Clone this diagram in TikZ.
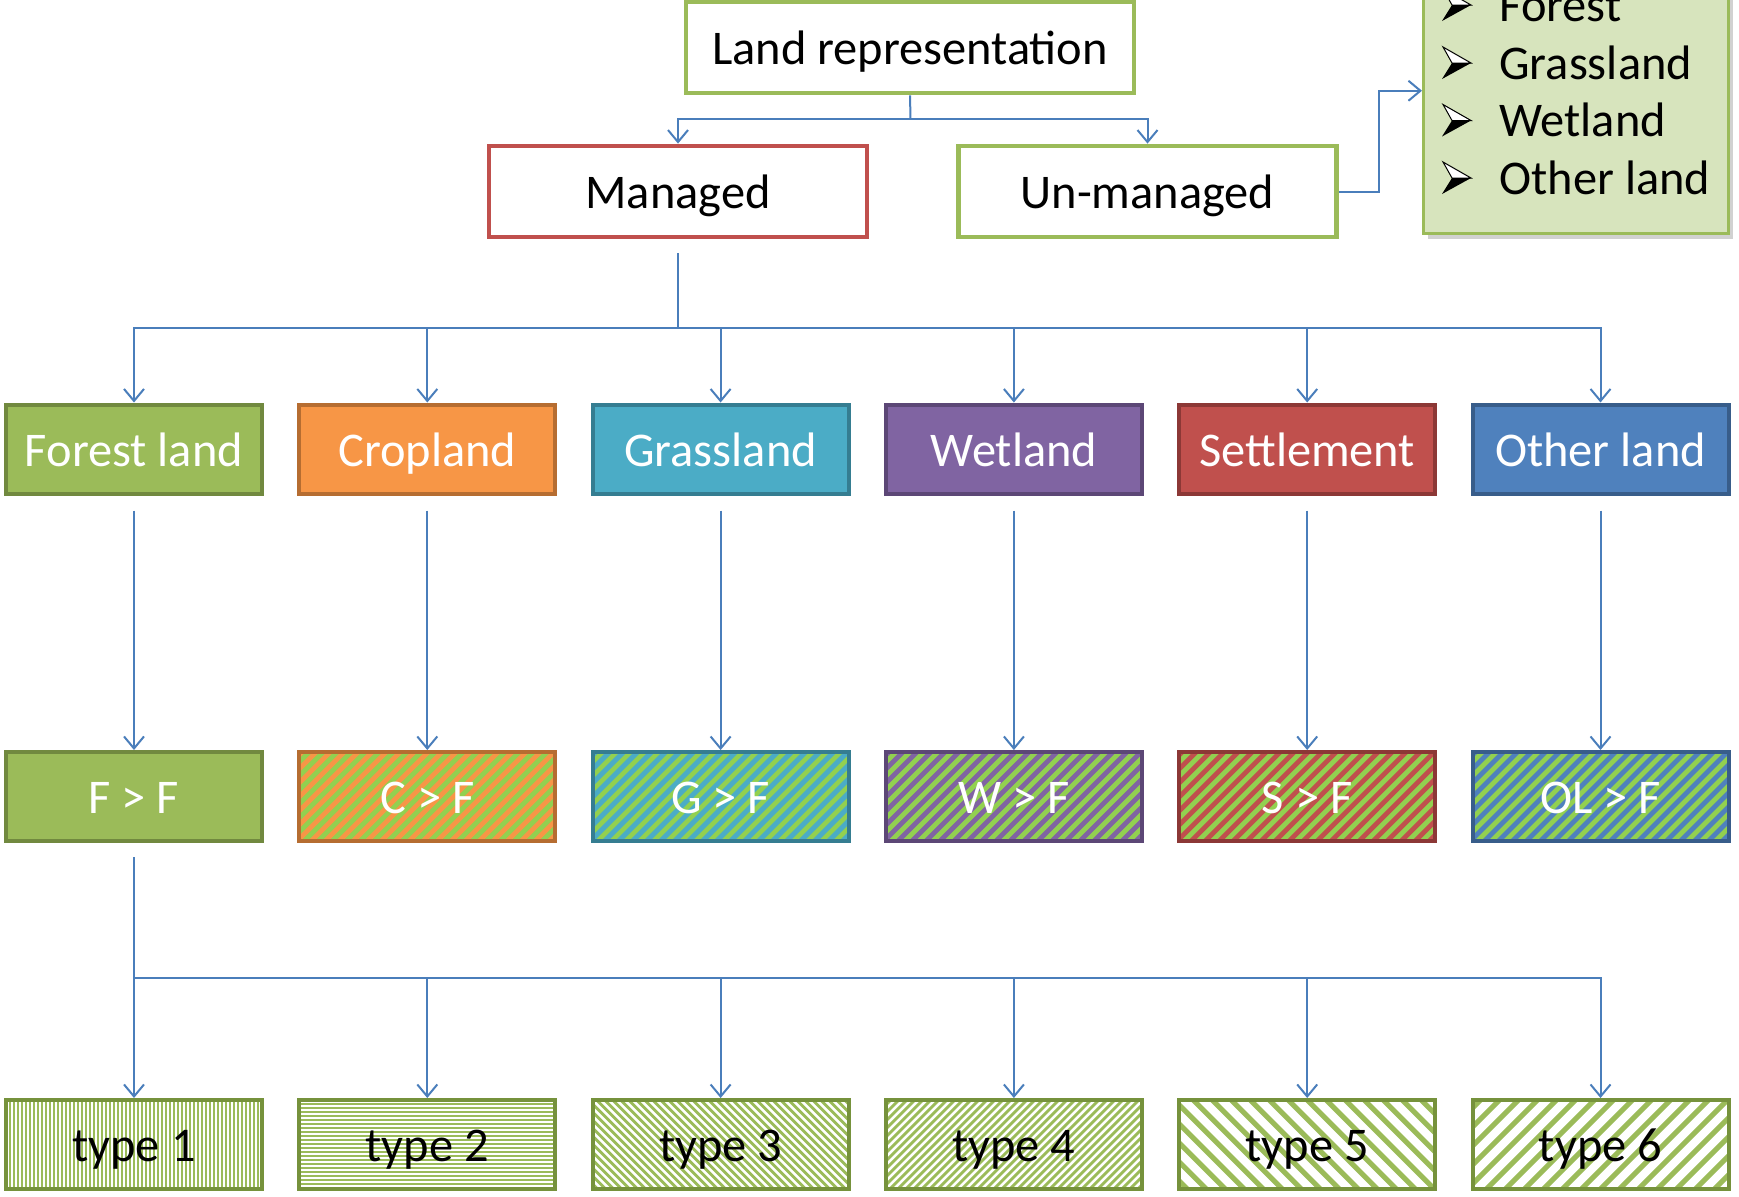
\documentclass[tikz,border=0pt]{standalone}
\usepackage{fontspec}
\setmainfont{Carlito}
\usetikzlibrary{arrows.meta,calc,shadows}
\definecolor{cblue}{HTML}{4A7EBB}
\definecolor{lrgreen}{HTML}{9BBB59}
\definecolor{mred}{HTML}{C0504D}
\definecolor{legfill}{HTML}{D7E4BD}
\definecolor{hgreen}{HTML}{92D050}
\definecolor{cgreen}{HTML}{9BBB59}\definecolor{bgreen}{HTML}{71893F}
\definecolor{corange}{HTML}{F79646}\definecolor{borange}{HTML}{B66D31}
\definecolor{caqua}{HTML}{4BACC6}\definecolor{baqua}{HTML}{357D91}
\definecolor{cpurple}{HTML}{8064A2}\definecolor{bpurple}{HTML}{5C4776}
\definecolor{cred}{HTML}{C0504D}\definecolor{bred}{HTML}{8C3836}
\definecolor{cblu}{HTML}{4F81BD}\definecolor{bblu}{HTML}{385D8A}
\definecolor{tline}{HTML}{9BBB59}
\definecolor{tborder}{HTML}{76923C}
\tikzset{
  bul/.pic={
    \filldraw[fill=white, draw=black, line width=0.5pt] (1,-32) -- (29,-16) -- (10,-16) -- cycle;
    \fill[black] (10,-16) -- (29,-16) -- (0,0) -- cycle;
  },
  hatchNE/.style n args={3}{path picture={
    \foreach \k in {0,...,70}{
      \draw[#1, line width=#3] ($(path picture bounding box.south west)+(\k*#2-100,0)$) -- ++(100,-100);}}},
  hatchSE/.style n args={3}{path picture={
    \foreach \k in {0,...,70}{
      \draw[#1, line width=#3] ($(path picture bounding box.north west)+(\k*#2-100,0)$) -- ++(100,100);}}},
  hatchV/.style n args={3}{path picture={
    \foreach \k in {0,...,70}{
      \draw[#1, line width=#3] ($(path picture bounding box.north west)+(\k*#2,0)$) -- ++(0,100);}}},
  hatchH/.style n args={3}{path picture={
    \foreach \k in {0,...,30}{
      \draw[#1, line width=#3] ($(path picture bounding box.north west)+(0,\k*#2)$) -- ++(300,0);}}},
}
\begin{document}
\begin{tikzpicture}[x=0.5pt,y=-0.5pt,
  conn/.style={draw=cblue, line width=1pt, -{Straight Barb[length=6pt,width=10pt,line width=1pt]}},
  cline/.style={draw=cblue, line width=1pt},
  txt/.style={font=\fontsize{24.2}{29}\selectfont, text height=17.4pt, text depth=0pt, inner sep=0pt},
  ltxt/.style={font=\fontsize{24.2}{29}\selectfont, inner sep=0pt},
  topbox/.style={txt, fill=white, line width=2.4pt, minimum height=45.5pt, text=black},
  rowbox/.style={txt, line width=2pt, minimum width=128pt, minimum height=44.5pt, text=white},
  typebox/.style={txt, draw=tborder, line width=2pt, fill=white, minimum width=128pt, minimum height=44.5pt, text=black},
]
\useasboundingbox (0,0) rectangle (1739,1196);

% top
\node[topbox, draw=lrgreen, minimum width=224pt] (lr) at (910,47.5) {Land representation};
\node[topbox, draw=mred, minimum width=189pt] (mg) at (678,191.5) {Managed};
\node[topbox, draw=lrgreen, minimum width=189pt] (um) at (1147.5,191.5) {Un-managed};

% legend
\node[draw=lrgreen, fill=legfill, line width=1.5pt, minimum width=152.5pt, minimum height=126.75pt, inner sep=0pt,
  drop shadow={shadow xshift=2pt, shadow yshift=-2.5pt, fill=black, opacity=0.18}] (legend) at (1576,106.75) {};
\node[ltxt, anchor=base west] (li1) at (1499,21) {Forest};
\node[ltxt, anchor=base west] (li2) at (1499,79) {Grassland};
\node[ltxt, anchor=base west] (li3) at (1499,136.5) {Wetland};
\node[ltxt, anchor=base west] (li4) at (1499,194) {Other land};
\pic at (1442,21) {bul};
\pic at (1442,79) {bul};
\pic at (1442,136.5) {bul};
\pic at (1442,194) {bul};

% row 1
\node[rowbox, fill=cgreen, draw=bgreen] (fl) at (134,449) {Forest land};
\node[rowbox, fill=corange, draw=borange] (cl) at (427.3,449) {Cropland};
\node[rowbox, fill=caqua, draw=baqua] (gl) at (720.6,449) {Grassland};
\node[rowbox, fill=cpurple, draw=bpurple] (wl) at (1013.9,449) {Wetland};
\node[rowbox, fill=cred, draw=bred] (sl) at (1307.2,449) {Settlement};
\node[rowbox, fill=cblu, draw=bblu] (ol) at (1600.5,449) {Other land};

% row 2
\node[rowbox, fill=cgreen, draw=bgreen] (ff) at (134,796.5) {F > F};
\node[rowbox, fill=hgreen, draw=borange, hatchNE={corange}{14}{2.4pt}] (cf) at (427.3,796.5) {C > F};
\node[rowbox, fill=hgreen, draw=baqua, hatchNE={caqua}{14}{2.4pt}] (gf) at (720.6,796.5) {G > F};
\node[rowbox, fill=hgreen, draw=bpurple, hatchNE={cpurple}{14}{2.4pt}] (wf) at (1013.9,796.5) {W > F};
\node[rowbox, fill=hgreen, draw=bred, hatchNE={cred}{14}{2.4pt}] (sf) at (1307.2,796.5) {S > F};
\node[rowbox, fill=hgreen, draw=bblu, hatchNE={cblu}{14}{2.4pt}] (of) at (1600.5,796.5) {OL > F};

% row 3
\node[typebox, hatchV={tline}{4}{1.2pt}] (t1) at (134,1144.5) {type 1};
\node[typebox, hatchH={tline}{4}{1.1pt}] (t2) at (427.3,1144.5) {type 2};
\node[typebox, hatchSE={tline}{8}{1.4pt}] (t3) at (720.6,1144.5) {type 3};
\node[typebox, hatchNE={tline}{8}{1.4pt}] (t4) at (1013.9,1144.5) {type 4};
\node[typebox, hatchSE={tline}{19}{2.6pt}] (t5) at (1307.2,1144.5) {type 5};
\node[typebox, hatchNE={tline}{19}{2.6pt}] (t6) at (1600.5,1144.5) {type 6};

% connectors top
\coordinate (busT) at (910.5,119);
\draw[cline] (lr.south) -- (busT);
\draw[conn] (busT) -| (mg.north);
\draw[conn] (busT) -| (um.north);
\draw[conn] (um.east) -- ++(40,0) |- ($(legend.west)+(0,-16)$);

% managed to row 1
\coordinate (busA) at (678,328);
\draw[cline] ([yshift=-7pt]mg.south) -- (busA);
\foreach \n in {fl,cl,gl,wl,sl,ol} \draw[conn] (busA) -| (\n.north);

% row 1 to row 2
\foreach \a/\b in {fl/ff,cl/cf,gl/gf,wl/wf,sl/sf,ol/of}
  \draw[conn, shorten <=7.5pt] (\a.south) -- (\b.north);

% F>F to types
\coordinate (busB) at (134,978);
\draw[cline] ([yshift=-7pt]ff.south) -- (busB);
\foreach \n in {t1,t2,t3,t4,t5,t6} \draw[conn] (busB) -| (\n.north);
\end{tikzpicture}
\end{document}
